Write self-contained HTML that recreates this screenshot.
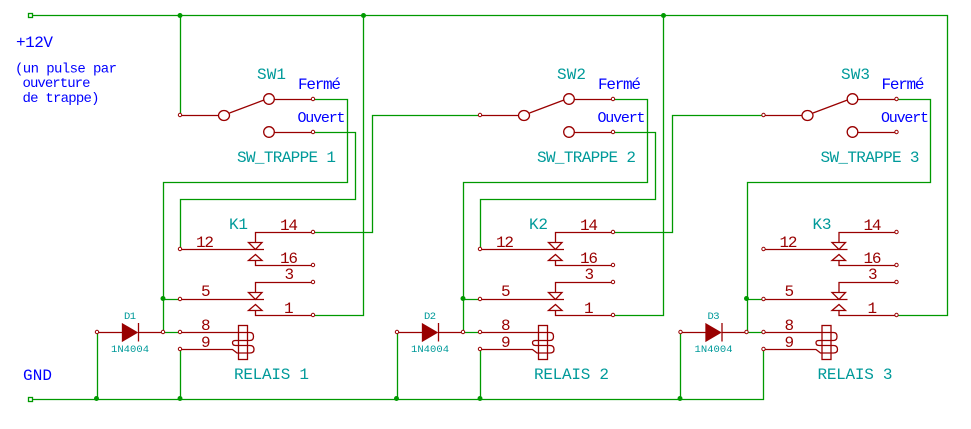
<!DOCTYPE html>
<html><head><meta charset="utf-8"><style>
html,body{margin:0;padding:0;background:#fff}
svg{display:block}
text{font-family:"Liberation Mono",monospace;white-space:pre}
.b{fill:#0000ff}.t{fill:#009a9a}.r{fill:#990000}
.f15{font-size:16px}.f14{font-size:15px}.f13{font-size:14px}.f10{font-size:10.5px}
</style></head><body>
<svg width="971" height="429" viewBox="0 0 971 429" xmlns="http://www.w3.org/2000/svg">
<defs>
<g id="sym" fill="none" stroke="#990000" stroke-width="1.3">
<path d="M180 115.500H218.500M229.500 113L264 100M274.500 99.500H313M274.500 132.500H313"/>
<ellipse cx="224" cy="115.500" rx="5.500" ry="5"/>
<circle cx="269" cy="99" r="5.300"/><circle cx="269" cy="132" r="5.300"/>
<path d="M313 232.500H255.500V242.500M248.500 242.500H262L255.500 249.500ZM180 249.500H264M255.500 254.500L262 260.500H248.500ZM255.500 260.500V265.500H313"/>
<path d="M313 282.500H255.500V292.500M248.500 292.500H262L255.500 299.500ZM180 299.500H264M255.500 304.500L262 310.500H248.500ZM255.500 310.500V315.500H313"/>
<path d="M97 332.500H122M138.500 332.500H163M180 332.500H250Q253.500 332.500 253.500 336.500Q253.500 340.500 250 340.500H235.500Q232.500 340.500 232.500 342.800Q232.500 345.500 235.500 345.500H250Q254 345.500 254 349.500Q254 353 250 353H237L232.500 349.500H180"/>
<rect x="238.500" y="325.500" width="9" height="34"/>
<path d="M138.500 323V341.500"/>
<path d="M122.500 324L137 332.500L122.500 341Z" fill="#990000"/>
<g fill="#fff" stroke-width="1">
<circle cx="180" cy="115" r="1.700"/><circle cx="313" cy="99" r="1.700"/><circle cx="313" cy="132" r="1.700"/>
<circle cx="313" cy="232" r="1.700"/><circle cx="180" cy="249" r="1.700"/><circle cx="313" cy="265" r="1.700"/>
<circle cx="313" cy="282" r="1.700"/><circle cx="180" cy="299" r="1.700"/><circle cx="313" cy="315" r="1.700"/>
<circle cx="97" cy="332" r="1.700"/><circle cx="163" cy="332" r="1.700"/><circle cx="180" cy="332" r="1.700"/><circle cx="180" cy="349" r="1.700"/>
</g>
</g>
</defs>

<g fill="none" stroke="#009900" stroke-width="1.3">
<path d="M32 15.500H947.500V315.500H897"/>
<path d="M32 399.500H763.500V349.500"/>
<path d="M180.500 15.500V115"/>
<path d="M363.500 15.500V315.500H313"/>
<path d="M663.500 15.500V315.500H613"/>
<path d="M313 99.500H347.500V182.500H163.500V332.500M163 332.500H180M163.500 299.500H180"/>
<path d="M313 132.500H355.500V199.500H180.500V249"/>
<path d="M313 232.500H372.500V115.500H480"/>
<path d="M613 99.500H647.500V182.500H463.500V332.500M463 332.500H480M463.500 299.500H480"/>
<path d="M613 132.500H655.500V199.500H480.500V249"/>
<path d="M613 232.500H672.500V115.500H763"/>
<path d="M897 99.500H930.500V182.500H747.500V332.500M747 332.500H763M747.500 299.500H763"/>
<path d="M97.500 332V399M180.500 349V399"/>
<path d="M397.500 332V399M480.500 349V399"/>
<path d="M680.500 332V399"/>
<rect x="28.500" y="13.500" width="4" height="4"/>
<rect x="28.500" y="397.500" width="4" height="4"/>
</g>
<g fill="#009900">
<circle cx="180" cy="15.500" r="2.500"/><circle cx="363.500" cy="15.500" r="2.500"/><circle cx="663.500" cy="15.500" r="2.500"/>
<circle cx="163" cy="298.500" r="2.500"/><circle cx="463" cy="298.500" r="2.500"/><circle cx="746.500" cy="298.500" r="2.500"/>
<circle cx="96.500" cy="398.500" r="2.500"/><circle cx="180" cy="398.500" r="2.500"/>
<circle cx="396.500" cy="398.500" r="2.500"/><circle cx="480" cy="398.500" r="2.500"/>
<circle cx="680" cy="398.500" r="2.500"/>
</g>

<use href="#sym"/>
<use href="#sym" x="300"/>
<use href="#sym" x="583.500"/>

<text class="b f15" x="16" y="47" textLength="37">+12V</text>
<text class="b f13" x="15" y="72.500" textLength="102">(un pulse par</text>
<text class="b f13" x="22.500" y="87" textLength="68">ouverture</text>
<text class="b f13" x="22.500" y="102" textLength="77">de trappe)</text>
<text class="b f15" x="23" y="380" textLength="29">GND</text>

<g class="labels">
<text class="t f15" x="257" y="79" textLength="29">SW1</text>
<text class="b f15" x="298" y="89" textLength="43">Fermé</text>
<text class="b f14" x="297.500" y="122" textLength="48">Ouvert</text>
<text class="t f15" x="237" y="162" textLength="99">SW_TRAPPE 1</text>
<text class="t f15" x="229" y="229" textLength="19">K1</text>
<text class="r f15" x="280" y="230" textLength="18">14</text>
<text class="r f15" x="196" y="247" textLength="18">12</text>
<text class="r f15" x="280" y="263" textLength="18">16</text>
<text class="r f15" x="284.500" y="279" textLength="9">3</text>
<text class="r f15" x="201" y="296" textLength="9">5</text>
<text class="r f15" x="284" y="313" textLength="9">1</text>
<text class="r f15" x="201" y="330" textLength="9">8</text>
<text class="r f15" x="201" y="347" textLength="9">9</text>
<text class="t f10" x="124" y="319" textLength="12">D1</text>
<text class="t f10" x="111" y="352" textLength="38">1N4004</text>
<text class="t f15" x="234" y="379" textLength="75">RELAIS 1</text>

<text class="t f15" x="557" y="79" textLength="29">SW2</text>
<text class="b f15" x="598" y="89" textLength="43">Fermé</text>
<text class="b f14" x="597.500" y="122" textLength="48">Ouvert</text>
<text class="t f15" x="537" y="162" textLength="99">SW_TRAPPE 2</text>
<text class="t f15" x="529" y="229" textLength="19">K2</text>
<text class="r f15" x="580" y="230" textLength="18">14</text>
<text class="r f15" x="496" y="247" textLength="18">12</text>
<text class="r f15" x="580" y="263" textLength="18">16</text>
<text class="r f15" x="584.500" y="279" textLength="9">3</text>
<text class="r f15" x="501" y="296" textLength="9">5</text>
<text class="r f15" x="584" y="313" textLength="9">1</text>
<text class="r f15" x="501" y="330" textLength="9">8</text>
<text class="r f15" x="501" y="347" textLength="9">9</text>
<text class="t f10" x="424" y="319" textLength="12">D2</text>
<text class="t f10" x="411" y="352" textLength="38">1N4004</text>
<text class="t f15" x="534" y="379" textLength="75">RELAIS 2</text>

<text class="t f15" x="841" y="79" textLength="29">SW3</text>
<text class="b f15" x="881.500" y="89" textLength="43">Fermé</text>
<text class="b f14" x="881" y="122" textLength="48">Ouvert</text>
<text class="t f15" x="820.500" y="162" textLength="99">SW_TRAPPE 3</text>
<text class="t f15" x="812.500" y="229" textLength="19">K3</text>
<text class="r f15" x="863.500" y="230" textLength="18">14</text>
<text class="r f15" x="779.500" y="247" textLength="18">12</text>
<text class="r f15" x="863.500" y="263" textLength="18">16</text>
<text class="r f15" x="868" y="279" textLength="9">3</text>
<text class="r f15" x="784.500" y="296" textLength="9">5</text>
<text class="r f15" x="867.500" y="313" textLength="9">1</text>
<text class="r f15" x="784.500" y="330" textLength="9">8</text>
<text class="r f15" x="784.500" y="347" textLength="9">9</text>
<text class="t f10" x="707.500" y="319" textLength="12">D3</text>
<text class="t f10" x="694.500" y="352" textLength="38">1N4004</text>
<text class="t f15" x="817.500" y="379" textLength="75">RELAIS 3</text>
</g>
</svg>
</body></html>
